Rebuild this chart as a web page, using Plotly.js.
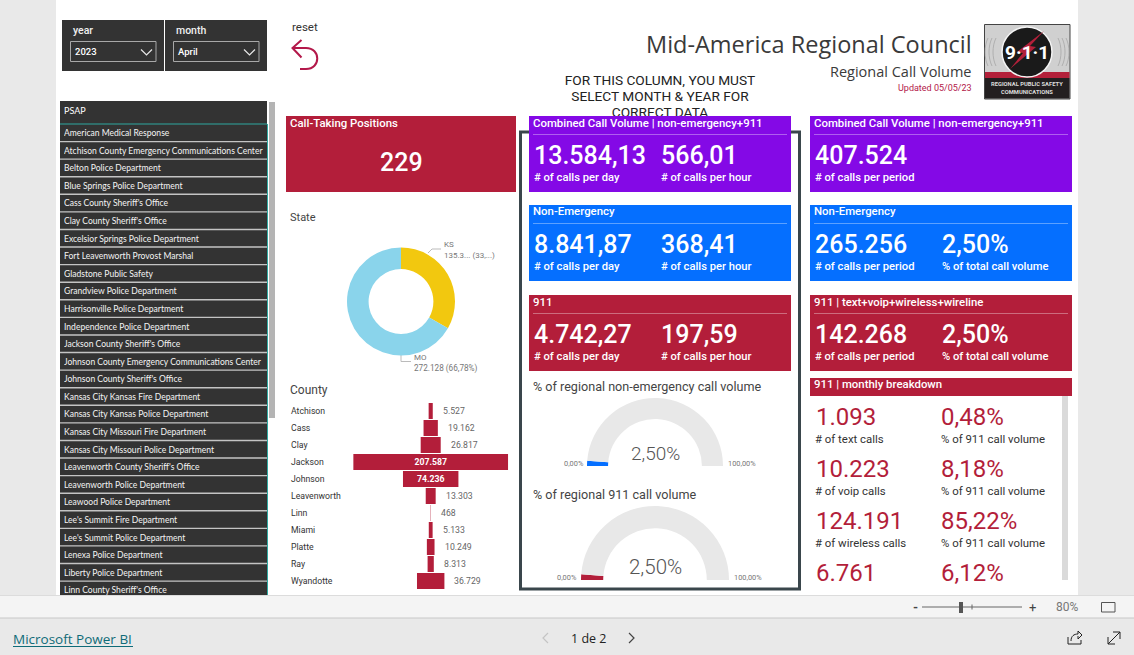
<!DOCTYPE html>
<html><head><meta charset="utf-8">
<script src="https://cdn.plot.ly/plotly-3.0.1.min.js"></script>
<style>html,body{margin:0;padding:0;background:#e9e9e9;overflow:hidden}#c{width:1134px;height:655px}</style>
</head><body><div id="c"></div>
<script>
// ---------- data ----------
const psapNames = ["American Medical Response","Atchison County Emergency Communications Center","Belton Police Department","Blue Springs Police Department","Cass County Sheriff's Office","Clay County Sheriff's Office","Excelsior Springs Police Department","Fort Leavenworth Provost Marshal","Gladstone Public Safety","Grandview Police Department","Harrisonville Police Department","Independence Police Department","Jackson County Sheriff's Office","Johnson County Emergency Communications Center","Johnson County Sheriff's Office","Kansas City Kansas Fire Department","Kansas City Kansas Police Department","Kansas City Missouri Fire Department","Kansas City Missouri Police Department","Leavenworth County Sheriff's Office","Leavenworth Police Department","Leawood Police Department","Lee's Summit Fire Department","Lee's Summit Police Department","Lenexa Police Department","Liberty Police Department","Linn County Sheriff's Office"];
const counties = ["Atchison","Cass","Clay","Jackson","Johnson","Leavenworth","Linn","Miami","Platte","Ray","Wyandotte"];
const countyCalls = [5527,19162,26817,207587,74236,13303,468,5133,10249,8313,36729];
const states = ["KS","MO"];
const stateCalls = [135396,272128];
const gaugeNonEmergency = [2.5,97.5,100];
const gauge911 = [2.5,97.5,100];
const noticeLines = ["FOR THIS COLUMN, YOU MUST","SELECT MONTH & YEAR FOR","CORRECT DATA"];

// ---------- helpers ----------
const W=1134,H=655;
const X=p=>p/W, Y=p=>1-p/H;
const CRIM='#B31E3A',PURP='#8409E6',BLUE='#056FFF',DARK='#333333';
const BODY='Roboto, sans-serif', SEG='"Open Sans", sans-serif', LIST='Lato, sans-serif';
const shapes=[],ann=[];
function rect(x0,y0,x1,y1,fill,line,lw,layer){shapes.push({type:'rect',xref:'paper',yref:'paper',x0:X(x0),x1:X(x1),y0:Y(y0),y1:Y(y1),fillcolor:fill||'rgba(0,0,0,0)',line:{color:line||'rgba(0,0,0,0)',width:line?(lw||1):0},layer:layer||'below'});}
function seg(x0,y0,x1,y1,color,lw,layer){shapes.push({type:'line',xref:'paper',yref:'paper',x0:X(x0),x1:X(x1),y0:Y(y0),y1:Y(y1),line:{color:color,width:lw||1},layer:layer||'below'});}
function path(cmds,color,lw,fill,layer){
  const s=cmds.map(c=>{const out=[c[0]];for(let i=1;i<c.length;i+=2)out.push(X(c[i])+','+Y(c[i+1]));return out.join(' ');}).join(' ');
  shapes.push({type:'path',xref:'paper',yref:'paper',path:s,fillcolor:fill||'rgba(0,0,0,0)',line:{color:color||'rgba(0,0,0,0)',width:color?(lw||1):0},layer:layer||'below'});
}
function circle(cx,cy,r,fill,line,lw){shapes.push({type:'circle',xref:'paper',yref:'paper',x0:X(cx-r),x1:X(cx+r),y0:Y(cy-r),y1:Y(cy+r),fillcolor:fill,line:{color:line||'rgba(0,0,0,0)',width:line?(lw||1):0},layer:'below'});}
function txt(x,y,s,o){o=o||{};const font={family:o.f||BODY,size:o.s||11,color:o.c||'#fff'};if(o.w)font.weight=o.w;ann.push({xref:'paper',yref:'paper',x:X(x),y:Y(y),text:o.bold?'<b>'+s+'</b>':s,showarrow:false,xanchor:o.a||'left',yanchor:'middle',borderpad:0,borderwidth:0,font:font});}

// ---------- page frame ----------
rect(56,0,1078,595,'#ffffff');
rect(0,595,1134,618,'#f4f4f4');
seg(0,595.5,1134,595.5,'#dcdcdc',1);
seg(0,618,1134,618,'#c8c8c8',1);

// ---------- slicers ----------
rect(62,20,267,71,DARK);
seg(164.5,20,164.5,71,'#ffffff',1);
rect(70.5,41.5,156,61.5,'rgba(0,0,0,0)','#a8a8a8',1);
rect(173.5,41.5,259,61.5,'rgba(0,0,0,0)','#a8a8a8',1);
path([['M',141,49.5],['L',146.5,55],['L',152,49.5]],'#e8e8e8',1.2);
path([['M',244,49.5],['L',249.5,55],['L',255,49.5]],'#e8e8e8',1.2);
txt(73,30.5,'year',{s:10.5,c:'#f0f0f0',w:500});
txt(176,30.5,'month',{s:10.5,c:'#f0f0f0',w:500});
txt(75,51.5,'2023',{s:9.5,w:500});
txt(178,51.5,'April',{s:9.5,w:500});

// ---------- reset ----------
txt(292,26.5,'reset',{s:11.5,c:'#333'});
path([['M',301.5,40],['L',292.5,48],['L',301.5,57.5]],'#B3184A',2);
path([['M',292.5,48],['L',306,48],['C',321,48,321,69,306,69],['L',300,69]],'#B3184A',2);

// ---------- PSAP list ----------
rect(60,101,267,595,DARK);
txt(64,110,'PSAP',{s:9,f:LIST});
psapNames.forEach((n,i)=>{seg(60,124+17.58*i,267,124+17.58*i,i===0?'#2fa8a0':'#c4c4c4',i===0?1:1.4);});
seg(267.5,124,267.5,595,'#2fa8a0',1);
rect(269,102,275,418,'#b4b4b4');

// ---------- titles ----------
txt(972,44,'Mid-America Regional Council',{a:'right',s:23.5,c:'#3a3a3a',f:SEG});
txt(972,71,'Regional Call Volume',{a:'right',s:14.5,c:'#3a3a3a',f:SEG});
txt(972,88,'Updated 05/05/23',{a:'right',s:9,c:'#B3184A'});

// ---------- logo ----------
rect(984.5,24.5,1070,99,'#d0d0d0','#444',1);
rect(985,72,1069.5,78,'#B3203A');
rect(985,78,1069.5,98.5,'#231f20');
[31,35,39].forEach(a=>{
  path([['M',1027-a,38],['C',1027-a-4,46,1027-a-4,58,1027-a,66]],'#a0a0a0',0.7);
  path([['M',1027+a,38],['C',1027+a+4,46,1027+a+4,58,1027+a,66]],'#a0a0a0',0.7);
});
circle(1027,52,25,'#1a1a1a','#f4f4f4',1.5);
path([['M',1044,31],['L',1030,46],['L',1036,47],['L',1010,69],['L',1023,53],['L',1017,52],['Z']],null,0,'#B3203A');
txt(1027,52,'9·1·1',{a:'center',s:19,bold:true});
txt(1027,84.5,'REGIONAL PUBLIC SAFETY',{a:'center',s:5.8,c:'#ddd',bold:true});
txt(1027,92.5,'COMMUNICATIONS',{a:'center',s:5.8,c:'#ddd',bold:true});

// ---------- column box ----------
rect(520.5,132,799.5,589,'rgba(0,0,0,0)','#3a464c',3);

// ---------- cards ----------
function card(x,y,w,h,color,title,divider){
  rect(x,y,x+w,y+h,color);
  txt(x+4,y+6.5,title,{s:11.4,w:500});
  if(divider) seg(x+4,y+18.5,x+w-4,y+18.5,'rgba(255,255,255,0.35)',1);
}
function kpi(x,y,value,label){ txt(x,y+39,value,{s:25,w:500}); txt(x,y+61,label,{s:11.2,w:500}); }

card(286,116,230,76,CRIM,'Call-Taking Positions');
txt(401,163,'229',{a:'center',s:25,w:500});

card(529,116,262,76,PURP,'Combined Call Volume | non-emergency+911',true);
kpi(534,116,'13.584,13','# of calls per day'); kpi(661,116,'566,01','# of calls per hour');
card(529,205,262,76,BLUE,'Non-Emergency',true);
kpi(534,205,'8.841,87','# of calls per day'); kpi(661,205,'368,41','# of calls per hour');
card(529,295,262,76,CRIM,'911',true);
kpi(534,295,'4.742,27','# of calls per day'); kpi(661,295,'197,59','# of calls per hour');

card(810,116,262,76,PURP,'Combined Call Volume | non-emergency+911',true);
kpi(815,116,'407.524','# of calls per period');
card(810,205,262,76,BLUE,'Non-Emergency',true);
kpi(815,205,'265.256','# of calls per period'); kpi(942,205,'2,50%','% of total call volume');
card(810,295,262,76,CRIM,'911 | text+voip+wireless+wireline',true);
kpi(815,295,'142.268','# of calls per period'); kpi(942,295,'2,50%','% of total call volume');
card(810,378,262,18,CRIM,'911 | monthly breakdown');
rect(1062,396,1068,580,'#dadada');
[['1.093','# of text calls','0,48%',417],['10.223','# of voip calls','8,18%',469],['124.191','# of wireless calls','85,22%',521],['6.761','','6,12%',573]].forEach(r=>{
  txt(815.5,r[3],r[0],{s:24,c:CRIM}); txt(941,r[3],r[2],{s:24,c:CRIM});
  if(r[1]){txt(815,r[3]+22,r[1],{s:11.4,c:'#333'}); txt(941,r[3]+22,'% of 911 call volume',{s:11.4,c:'#333'});}
});

// ---------- state donut labels ----------
txt(290,218,'State',{s:11,c:'#444'});
path([['M',428,253],['L',432,249],['L',441,249]],'#bbbbbb',1);
path([['M',401,355],['L',401,361.5],['L',411,361.5]],'#bbbbbb',1);
txt(444,244,'KS',{s:8,c:'#777'}); txt(444,255,'135.3... (33,...)',{s:8,c:'#777'});
txt(414,357,'MO',{s:8,c:'#777'}); txt(414,368,'272.128 (66,78%)',{s:8.2,c:'#777'});
txt(290,390,'County',{s:12,c:'#444'});

// county names and outside values are anchored to the funnel's own axes
const inside=v=>v>50000;
const fmt=v=>v.toLocaleString('de-DE');
counties.forEach((c,i)=>{
  ann.push({xref:'paper',yref:'y',x:X(290),y:c,text:c,showarrow:false,xanchor:'left',yanchor:'middle',borderpad:0,font:{family:BODY,size:8.7,color:'#333'}});
  if(!inside(countyCalls[i])) ann.push({xref:'x',yref:'y',x:countyCalls[i]/2,xshift:9,y:c,text:fmt(countyCalls[i]),showarrow:false,xanchor:'left',yanchor:'middle',borderpad:0,font:{family:BODY,size:8.7,color:'#666'}});
});

// ---------- gauge labels ----------
txt(533,386,'% of regional non-emergency call volume',{s:12.6,c:'#444'});
txt(533,494,'% of regional 911 call volume',{s:12.6,c:'#444'});
txt(655,453,'2,50%',{a:'center',s:19,c:'#555',w:300});
txt(655,567,'2,50%',{a:'center',s:20.5,c:'#555',w:300});
txt(584,463,'0,00%',{a:'right',s:7.4,c:'#777'});
txt(727.5,463,'100,00%',{s:7.4,c:'#777'});
txt(577,577,'0,00%',{a:'right',s:7.4,c:'#777'});
txt(734,577,'100,00%',{s:7.4,c:'#777'});

// ---------- footer ----------
txt(13,639,'Microsoft Power BI',{s:13.5,c:'#0f6b78',f:SEG});
seg(13,646.5,133,646.5,'#0f6b78',1);
txt(588,638,'1 de 2',{a:'center',s:12.5,c:'#222',f:SEG});
path([['M',548,633],['L',543,638],['L',548,643]],'#c4c4c4',1.2);
path([['M',629,633],['L',634,638],['L',629,643]],'#444',1.2);
txt(915,607,'-',{a:'center',s:13,c:'#444',bold:true});
seg(922,607,1022,607,'#666',1);
rect(959,602,963,613,'#555');
seg(972,604.5,972,609.5,'#666',1);
txt(1032,607,'+',{a:'center',s:13,c:'#444'});
txt(1067,607,'80%',{a:'center',s:12,c:'#777'});
rect(1101.5,602.5,1115,612,'rgba(0,0,0,0)','#555',1);
path([['M',1068,637],['L',1068,644],['L',1081,644],['L',1081,640]],'#222',1);
path([['M',1071,641],['C',1071,636,1074,634,1078,634],['L',1078,631],['L',1082,635],['L',1078,639],['L',1078,636]],'#222',1);
seg(1108,644,1120,632,'#222',1);
path([['M',1113,632],['L',1120,632],['L',1120,639]],'#222',1);
path([['M',1108,637],['L',1108,644],['L',1115,644]],'#222',1);

// ---------- traces ----------
const traces=[
 {type:'funnel',orientation:'h',y:counties,x:countyCalls,xaxis:'x',yaxis:'y',
  marker:{color:CRIM,line:{width:0}},connector:{visible:false},
  texttemplate:'<b>%{x:,.0f}</b>',textposition:countyCalls.map(v=>inside(v)?'inside':'none'),
  textangle:0,constraintext:'none',cliponaxis:false,
  textfont:{family:BODY,size:8.7,color:'#fff'},
  hoverinfo:'skip'},
 {type:'pie',labels:states,values:stateCalls,sort:false,direction:'clockwise',rotation:0,hole:0.6,
  domain:{x:[X(347),X(455)],y:[Y(355.5),Y(247.5)]},
  marker:{colors:['#F2C80F','#8AD4EB'],line:{width:0}},textinfo:'none',showlegend:false,hoverinfo:'skip'},
 {type:'pie',values:gaugeNonEmergency,sort:false,direction:'clockwise',rotation:270,hole:0.69,
  domain:{x:[X(587),X(723)],y:[Y(534),Y(398)]},
  marker:{colors:[BLUE,'#e8e8e8','rgba(0,0,0,0)'],line:{width:0}},textinfo:'none',showlegend:false,hoverinfo:'skip'},
 {type:'pie',values:gauge911,sort:false,direction:'clockwise',rotation:270,hole:0.7,
  domain:{x:[X(581),X(729)],y:[Y(654),Y(506)]},
  marker:{colors:[CRIM,'#e8e8e8','rgba(0,0,0,0)'],line:{width:0}},textinfo:'none',showlegend:false,hoverinfo:'skip'},
 {type:'scatter',mode:'text',x:psapNames.map(()=>0),y:psapNames,xaxis:'x2',yaxis:'y2',cliponaxis:true,
  text:psapNames,textposition:'middle right',textfont:{family:LIST,size:8.55,color:'#f4f4f4'},showlegend:false,hoverinfo:'skip'},
 {type:'scatter',mode:'text',x:noticeLines.map(()=>0),y:noticeLines,xaxis:'x3',yaxis:'y3',cliponaxis:true,
  text:noticeLines,textposition:'middle center',textfont:{family:BODY,size:13.7,color:'#222'},showlegend:false,hoverinfo:'skip'}
];

const hidden={visible:false,fixedrange:true,showgrid:false,zeroline:false};
const half=countyCalls[3]/2;
const layout={
 width:W,height:H,margin:{l:0,r:0,t:0,b:0},
 paper_bgcolor:'#e9e9e9',plot_bgcolor:'rgba(0,0,0,0)',showlegend:false,separators:',.',
 funnelmode:'stack',funnelgap:0.07,
 font:{family:BODY},
 xaxis:Object.assign({},hidden,{domain:[X(353.2),X(508.2)],range:[-half,half],anchor:'y'}),
 yaxis:Object.assign({},hidden,{domain:[Y(589.5),Y(402.5)],type:'category',categoryorder:'array',categoryarray:counties,range:[10.5,-0.5],anchor:'x'}),
 xaxis2:Object.assign({},hidden,{domain:[X(64),X(267)],range:[0,1],anchor:'y2'}),
 yaxis2:Object.assign({},hidden,{domain:[Y(595),Y(124)],type:'category',categoryorder:'array',categoryarray:psapNames,range:[26.22,-0.57],anchor:'x2'}),
 xaxis3:Object.assign({},hidden,{domain:[X(520),X(800)],range:[-1,1],anchor:'y3'}),
 yaxis3:Object.assign({},hidden,{domain:[Y(116),Y(70)],type:'category',categoryorder:'array',categoryarray:noticeLines,range:[2.125,-0.75],anchor:'x3'}),
 shapes:shapes,annotations:ann
};
Plotly.newPlot('c',traces,layout,{displayModeBar:false,staticPlot:true});
</script></body></html>
